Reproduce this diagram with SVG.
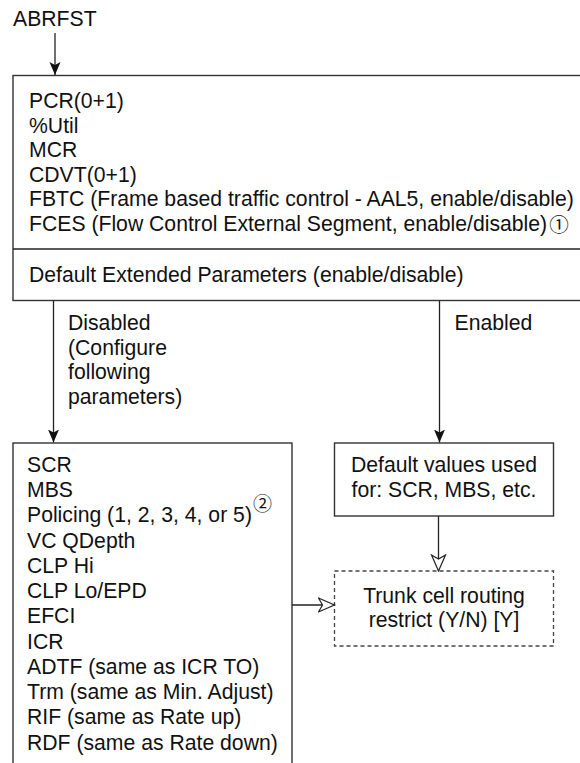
<svg xmlns="http://www.w3.org/2000/svg" width="580" height="763" viewBox="0 0 580 763">
<defs>
<style>
text{font-family:"Liberation Sans",Arial,sans-serif;font-size:21.2px;fill:#111}
.c{text-anchor:middle}
.box{fill:#fff;stroke:#333;stroke-width:1.4}
.dash{fill:#fff;stroke:#444;stroke-width:1.3;stroke-dasharray:4 3}
.ln{fill:none;stroke:#222;stroke-width:1.3}
.circ{font-family:"Noto Sans CJK SC","DejaVu Sans",sans-serif}
</style>
<marker id="fa" markerUnits="userSpaceOnUse" markerWidth="14" markerHeight="12" refX="13" refY="5.5" orient="auto">
<path d="M0,0 L13,5.5 L0,11 L3,5.5 z" fill="#111"/>
</marker>
<marker id="oa" markerUnits="userSpaceOnUse" markerWidth="18" markerHeight="17" refX="17" refY="8" orient="auto">
<path d="M1,1 L17,8 L1,15 L5,8 z" fill="#fff" stroke="#222" stroke-width="1.2"/>
</marker>
</defs>
<rect width="580" height="763" fill="#fff"/>
<text x="13" y="26">ABRFST</text>
<g id="top">
<rect class="box" x="13" y="75.5" width="590" height="225"/>
<line class="ln" x1="13" y1="249" x2="590" y2="249"/>
<text x="29" y="108">PCR(0+1)</text>
<text x="29" y="132.6">%Util</text>
<text x="29" y="157.2">MCR</text>
<text x="29" y="181.8">CDVT(0+1)</text>
<text x="29" y="206.4">FBTC (Frame based traffic control - AAL5, enable/disable)</text>
<text x="29" y="231">FCES (Flow Control External Segment, enable/disable)<tspan class="circ" font-size="19.5" dx="2" dy="1">①</tspan></text>
<text x="29" y="281.5">Default Extended Parameters (enable/disable)</text>
</g>
<g id="params">
<rect class="box" x="13" y="443" width="279" height="340"/>
<text x="27" y="471.7">SCR</text>
<text x="27" y="497">MBS</text>
<text x="27" y="522.2">Policing (1, 2, 3, 4, or 5)<tspan class="circ" font-size="19" dx="1" dy="-11">②</tspan></text>
<text x="27" y="547.5">VC QDepth</text>
<text x="27" y="572.7">CLP Hi</text>
<text x="27" y="598">CLP Lo/EPD</text>
<text x="27" y="623.2">EFCI</text>
<text x="27" y="648.5">ICR</text>
<text x="27" y="673.7">ADTF (same as ICR TO)</text>
<text x="27" y="699">Trm (same as Min. Adjust)</text>
<text x="27" y="724.2">RIF (same as Rate up)</text>
<text x="27" y="749.5">RDF (same as Rate down)</text>
</g>
<g id="defaults">
<rect class="box" x="334.5" y="443" width="219" height="73"/>
<text class="c" x="444" y="472">Default values used</text>
<text class="c" x="444" y="497">for: SCR, MBS, etc.</text>
</g>
<g id="trunk">
<rect class="dash" x="334.5" y="571" width="219" height="75"/>
<text class="c" x="444" y="602.5">Trunk cell routing</text>
<text class="c" x="444" y="626.5">restrict (Y/N) [Y]</text>
</g>
<g id="connectors">
<line class="ln" x1="55" y1="33" x2="55" y2="75" marker-end="url(#fa)"/>
<line class="ln" x1="53.5" y1="300.5" x2="53.5" y2="442.5" marker-end="url(#fa)"/>
<line class="ln" x1="439.5" y1="300.5" x2="439.5" y2="442.5" marker-end="url(#fa)"/>
<line class="ln" x1="438.5" y1="516" x2="438.5" y2="571" marker-end="url(#oa)"/>
<line class="ln" x1="292" y1="605" x2="334.5" y2="605" marker-end="url(#oa)"/>
<text x="68" y="330">Disabled</text>
<text x="68" y="354.7">(Configure</text>
<text x="68" y="379.4">following</text>
<text x="68" y="404">parameters)</text>
<text x="454.5" y="330">Enabled</text>
</g>
</svg>
